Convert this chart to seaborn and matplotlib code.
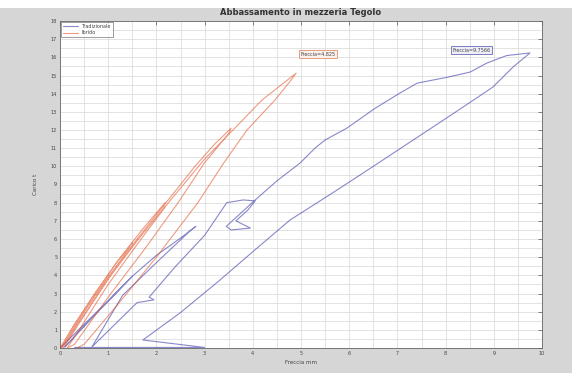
import numpy as np
import pandas as pd
import matplotlib
matplotlib.use("Agg")
import matplotlib.pyplot as plt
import seaborn as sns
from matplotlib.ticker import MultipleLocator
from matplotlib.patches import Rectangle

# ---- data ----
title = "Abbassamento in mezzeria Tegolo"
xlabel = "Freccia mm"
ylabel = "Carico t"
series_names = ["Tradizionale", "Ibrido"]

blue_x = [0, 0.5, 1.0, 1.5, 1.1, 0.5, 0.1, 0.6, 1.5, 2.0, 2.5, 2.82, 2.7, 2.0, 1.3, 0.66,
          1.1, 1.6, 1.95, 1.85, 2.4, 3.0, 3.46, 3.8, 4.05, 3.9, 3.65, 3.95, 3.55, 3.45, 3.7,
          4.05, 4.5, 4.98, 5.29, 5.5, 5.95, 6.54, 7.05, 7.41, 8.03, 8.51, 8.86, 9.27, 9.75,
          9.4, 8.98, 8.1, 7.3, 6.5, 5.75, 4.77, 4.0, 3.3, 2.5, 1.72, 3.0, 0.3]
blue_y = [0, 1.3, 2.6, 3.95, 2.85, 1.2, 0.05, 1.5, 3.95, 5.1, 6.05, 6.7, 6.45, 4.7, 2.9, 0.05,
          1.2, 2.5, 2.65, 2.8, 4.5, 6.2, 8.0, 8.15, 8.1, 7.6, 7.0, 6.6, 6.5, 6.7, 7.3,
          8.15, 9.2, 10.18, 11.0, 11.45, 12.1, 13.2, 14.03, 14.58, 14.9, 15.19, 15.69, 16.1, 16.24,
          15.47, 14.36, 12.8, 11.4, 10.0, 8.7, 7.04, 5.3, 3.7, 1.95, 0.44, 0.03, 0.03]

orange_x = [0, 0.3, 0.7, 1.0, 0.95, 0.6, 0.2, 0.05, 0.35, 0.75, 1.2, 1.5, 1.45, 1.0, 0.5,
            0.1, 0.02, 0.3, 0.7, 1.2, 1.7, 2.18, 2.15, 1.6, 1.0, 0.4, 0.1, 0.05, 0.5, 1.0,
            1.6, 2.2, 2.8, 3.2, 3.55, 3.5, 3.0, 2.45, 1.8, 1.0, 0.3, 0.15, 0.3, 1.0, 1.6,
            2.25, 3.0, 3.59, 4.19, 4.9, 4.75, 4.46, 3.88, 3.4, 2.86, 2.0, 1.2, 0.5, 0.35]
orange_y = [0, 1.3, 2.9, 4.0, 3.8, 2.4, 0.7, 0, 1.4, 3.1, 4.8, 5.8, 5.6, 3.8, 1.8,
            0.2, 0, 1.3, 2.9, 4.8, 6.5, 8.0, 7.7, 5.9, 3.8, 1.4, 0.1, 0, 2.0, 3.9,
            6.0, 8.0, 10.0, 11.2, 12.1, 11.8, 10.2, 8.0, 5.6, 2.8, 0.2, 0, 0.6, 3.5, 5.7,
            8.0, 10.4, 12.0, 13.65, 15.13, 14.6, 13.65, 12.0, 10.2, 8.0, 5.0, 2.4, 0.2, 0]

annot_text = ["Freccia=9.7566", "Freccia=4.825"]

# ---- figure ----
sns.set_style("white")
plt.rcParams["font.family"] = ["DejaVu Sans"]
fig = plt.figure(figsize=(5.72, 3.73), dpi=100, facecolor="#d6d6d6")
fig.patches.append(Rectangle((0, 365 / 373), 1, 8 / 373, transform=fig.transFigure,
                             facecolor="white", edgecolor="none", zorder=0))
ax = fig.add_axes([60 / 572, 1 - 348 / 373, 482 / 572, 327 / 373])
ax.set_facecolor("white")

df_b = pd.DataFrame({"x": blue_x, "y": blue_y})
df_o = pd.DataFrame({"x": orange_x, "y": orange_y})
sns.lineplot(data=df_b, x="x", y="y", sort=False, estimator=None, ax=ax,
             color="#3a3aa8", alpha=0.6, lw=0.8, label=series_names[0])
sns.lineplot(data=df_o, x="x", y="y", sort=False, estimator=None, ax=ax,
             color="#e04a1e", alpha=0.55, lw=0.8, label=series_names[1])

ax.set_xlim(0, 10)
ax.set_ylim(0, 18)
ax.xaxis.set_major_locator(MultipleLocator(1))
ax.yaxis.set_major_locator(MultipleLocator(1))
ax.xaxis.set_minor_locator(MultipleLocator(0.5))
ax.yaxis.set_minor_locator(MultipleLocator(0.5))
ax.grid(True, which="both", color="#dedede", lw=0.6)
ax.set_axisbelow(True)
ax.tick_params(which="major", direction="in", length=3, width=0.5, top=True, right=True,
               labelsize=3.5, labelcolor="#444444", color="#555555", pad=2)
ax.tick_params(which="minor", length=0)
for s in ax.spines.values():
    s.set_color("#666666")
    s.set_linewidth(0.6)

ax.set_title(title, fontsize=6, fontweight="bold", color="#333333", pad=4)
ax.set_xlabel(xlabel, fontsize=4, color="#444444", labelpad=3)
ax.set_ylabel(ylabel, fontsize=4, color="#444444", labelpad=9)

leg = ax.legend(loc="upper left", fontsize=3.5, frameon=True, fancybox=False,
                borderaxespad=0.2, handlelength=3, labelspacing=0.3, borderpad=0.4)
leg.get_frame().set_edgecolor("#555555")
leg.get_frame().set_linewidth(0.5)
for t in leg.get_texts():
    t.set_color("#444444")

ax.text(max(blue_x) - 1.22, max(blue_y) + 0.15, annot_text[0], fontsize=3.5, color="#444444",
        ha="center", va="center",
        bbox=dict(boxstyle="square,pad=0.3", fc="#eeeef8", ec="#6a6ab8", lw=0.6))
ax.text(max(orange_x) + 0.45, max(orange_y) + 1.05, annot_text[1], fontsize=3.5, color="#444444",
        ha="center", va="center",
        bbox=dict(boxstyle="square,pad=0.3", fc="#fbf1ec", ec="#e0906a", lw=0.6))

fig.savefig("out.png", dpi=100, facecolor=fig.get_facecolor())
